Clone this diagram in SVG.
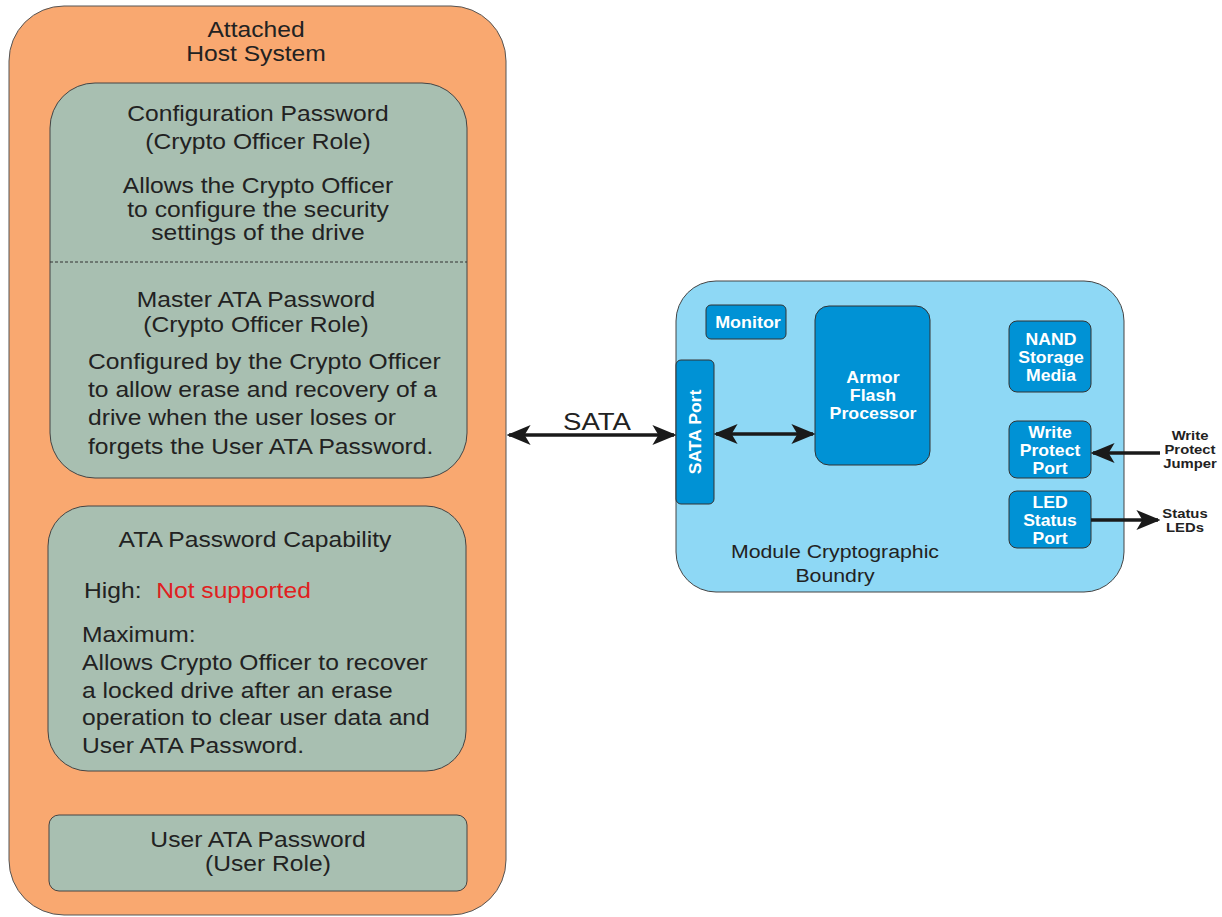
<svg xmlns="http://www.w3.org/2000/svg" width="1222" height="917" viewBox="0 0 1222 917">
<style>
.host{fill:#F9A870;stroke:#555;stroke-width:1}
.g{fill:#A8BFB1;stroke:#444;stroke-width:1}
.t{font-family:"Liberation Sans",Arial,sans-serif;font-size:22px;fill:#222}
.c{text-anchor:middle}
.mod{fill:#8ED8F5;stroke:#444;stroke-width:1}
.b{fill:#0092D5;stroke:#333;stroke-width:1}
.w{font-family:"Liberation Sans",Arial,sans-serif;font-size:16px;font-weight:bold;fill:#fff;text-anchor:middle}
.k{font-family:"Liberation Sans",Arial,sans-serif;font-size:13px;font-weight:bold;fill:#222;text-anchor:middle}
.ln{stroke:#1a1a1a;stroke-width:3.5;fill:none}
</style>
<defs>
<marker id="ah2" viewBox="0 0 10 10" refX="9" refY="5" markerWidth="24" markerHeight="20" markerUnits="userSpaceOnUse" orient="auto-start-reverse" preserveAspectRatio="none">
<path d="M0,0 L10,5 L0,10 L2.5,5 Z" fill="#1a1a1a"/>
</marker>
</defs>
<g id="host">
<rect class="host" x="9" y="6" width="497" height="909" rx="55"/>
<text class="t c" transform="translate(256,37) scale(1.12,1)">Attached</text>
<text class="t c" transform="translate(256,61) scale(1.12,1)">Host System</text>
</g>
<g id="config-password">
<rect class="g" x="50" y="83" width="417" height="395" rx="45"/>
<text class="t c" transform="translate(258,121) scale(1.12,1)">Configuration Password</text>
<text class="t c" transform="translate(258,149) scale(1.12,1)">(Crypto Officer Role)</text>
<text class="t c" transform="translate(258,193) scale(1.12,1)">Allows the Crypto Officer</text>
<text class="t c" transform="translate(258,217) scale(1.12,1)">to configure the security</text>
<text class="t c" transform="translate(258,240) scale(1.12,1)">settings of the drive</text>
<line x1="50" y1="262" x2="467" y2="262" stroke="#333" stroke-width="1" stroke-dasharray="3,2"/>
<text class="t c" transform="translate(256,307) scale(1.12,1)">Master ATA Password</text>
<text class="t c" transform="translate(256,332) scale(1.12,1)">(Crypto Officer Role)</text>
<text class="t" transform="translate(88,369) scale(1.12,1)">Configured by the Crypto Officer</text>
<text class="t" transform="translate(88,397) scale(1.12,1)">to allow erase and recovery of a</text>
<text class="t" transform="translate(88,425) scale(1.12,1)">drive when the user loses or</text>
<text class="t" transform="translate(88,454) scale(1.12,1)">forgets the User ATA Password.</text>
</g>
<g id="ata-capability">
<rect class="g" x="48" y="506" width="418" height="265" rx="40"/>
<text class="t c" transform="translate(255,547) scale(1.12,1)">ATA Password Capability</text>
<text class="t" transform="translate(84,598) scale(1.12,1)">High: <tspan dx="7" fill="#E02020">Not supported</tspan></text>
<text class="t" transform="translate(82,642) scale(1.12,1)">Maximum:</text>
<text class="t" transform="translate(82,670) scale(1.12,1)">Allows Crypto Officer to recover</text>
<text class="t" transform="translate(82,698) scale(1.12,1)">a locked drive after an erase</text>
<text class="t" transform="translate(82,725) scale(1.12,1)">operation to clear user data and</text>
<text class="t" transform="translate(82,753) scale(1.12,1)">User ATA Password.</text>
</g>
<g id="user-password">
<rect class="g" x="49" y="815" width="418" height="76" rx="10"/>
<text class="t c" transform="translate(258,847) scale(1.12,1)">User ATA Password</text>
<text class="t c" transform="translate(268,871) scale(1.12,1)">(User Role)</text>
</g>
<g id="module">
<rect class="mod" x="676" y="281" width="448" height="311" rx="40"/>
<text class="t c" style="font-size:19px" transform="translate(835,558) scale(1.12,1)">Module Cryptographic</text>
<text class="t c" style="font-size:19px" transform="translate(835,582) scale(1.12,1)">Boundry</text>
</g>
<g id="monitor">
<rect class="b" x="706" y="305" width="80" height="34" rx="5"/>
<text class="w" transform="translate(748,328) scale(1.12,1)">Monitor</text>
</g>
<g id="sata-port">
<rect class="b" x="676" y="360" width="38" height="144" rx="5"/>
<text class="w" transform="translate(701,432) rotate(-90) scale(1.1,1)">SATA Port</text>
</g>
<g id="armor">
<rect class="b" x="815" y="306" width="115" height="159" rx="14"/>
<text class="w" transform="translate(873,383) scale(1.11,1)">Armor</text>
<text class="w" transform="translate(873,401) scale(1.11,1)">Flash</text>
<text class="w" transform="translate(873,419) scale(1.11,1)">Processor</text>
</g>
<g id="nand">
<rect class="b" x="1009" y="321" width="82" height="71" rx="8"/>
<text class="w" transform="translate(1051,345) scale(1.1,1)">NAND</text>
<text class="w" transform="translate(1051,363) scale(1.1,1)">Storage</text>
<text class="w" transform="translate(1051,381) scale(1.1,1)">Media</text>
</g>
<g id="write-protect">
<rect class="b" x="1009" y="421" width="82" height="57" rx="8"/>
<text class="w" transform="translate(1050,438) scale(1.1,1)">Write</text>
<text class="w" transform="translate(1050,456) scale(1.1,1)">Protect</text>
<text class="w" transform="translate(1050,474) scale(1.1,1)">Port</text>
</g>
<g id="led-status">
<rect class="b" x="1009" y="491" width="82" height="57" rx="8"/>
<text class="w" transform="translate(1050,508) scale(1.1,1)">LED</text>
<text class="w" transform="translate(1050,526) scale(1.1,1)">Status</text>
<text class="w" transform="translate(1050,544) scale(1.1,1)">Port</text>
</g>
<g id="labels">
<text class="t c" style="font-size:24px" transform="translate(597,430) scale(1.15,1)">SATA</text>
<text class="k" transform="translate(1190,440) scale(1.14,1)">Write</text>
<text class="k" transform="translate(1190,454) scale(1.14,1)">Protect</text>
<text class="k" transform="translate(1190,468) scale(1.14,1)">Jumper</text>
<text class="k" transform="translate(1185,518) scale(1.14,1)">Status</text>
<text class="k" transform="translate(1185,532) scale(1.14,1)">LEDs</text>
</g>
<g id="connectors">
<line class="ln" x1="509" y1="435" x2="674" y2="435" marker-start="url(#ah2)" marker-end="url(#ah2)"/>
<line class="ln" x1="716" y1="434" x2="813" y2="434" marker-start="url(#ah2)" marker-end="url(#ah2)"/>
<line class="ln" x1="1160" y1="453" x2="1093" y2="453" marker-end="url(#ah2)"/>
<line class="ln" x1="1091" y1="520" x2="1158" y2="520" marker-end="url(#ah2)"/>
</g>
</svg>
